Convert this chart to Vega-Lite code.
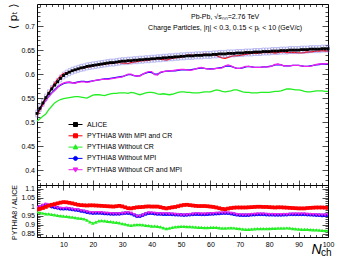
{
"$schema": "https://vega.github.io/schema/vega-lite/v6.json",
"background": "white",
"padding": {"left": 6, "top": 2, "right": 2, "bottom": 2},
"config": {
  "font": "Liberation Sans",
  "view": {"stroke": "black", "strokeWidth": 1},
  "axis": {"domain": false, "grid": false, "tickColor": "black", "tickWidth": 0.7, "labelFont": "Liberation Sans", "labelFontSize": 7, "labelColor": "black", "labelOverlap": false, "labelBound": false, "labelFlush": false, "titleFontWeight": "normal", "titleColor": "black"}
},
"datasets": {"d": [
{"n":1,"a":0.518,"r":0.514,"g":0.502,"b":0.520,"m":0.519,"rr":0.985,"rg":0.970,"rb":0.993,"rm":0.995},
{"n":2,"a":0.529,"r":0.526,"g":0.507,"b":0.527,"m":0.526,"rr":0.988,"rg":0.967,"rb":0.999,"rm":1.000},
{"n":3,"a":0.540,"r":0.538,"g":0.512,"b":0.537,"m":0.536,"rr":0.992,"rg":0.963,"rb":1.006,"rm":1.007},
{"n":4,"a":0.551,"r":0.550,"g":0.517,"b":0.546,"m":0.545,"rr":0.998,"rg":0.960,"rb":1.011,"rm":1.013},
{"n":5,"a":0.560,"r":0.561,"g":0.526,"b":0.554,"m":0.553,"rr":1.005,"rg":0.959,"rb":1.007,"rm":1.008},
{"n":6,"a":0.569,"r":0.572,"g":0.533,"b":0.561,"m":0.560,"rr":1.010,"rg":0.957,"rb":1.000,"rm":1.002},
{"n":7,"a":0.577,"r":0.581,"g":0.540,"b":0.567,"m":0.566,"rr":1.014,"rg":0.954,"rb":0.996,"rm":0.997},
{"n":8,"a":0.584,"r":0.589,"g":0.544,"b":0.573,"m":0.572,"rr":1.018,"rg":0.951,"rb":0.993,"rm":0.992},
{"n":9,"a":0.591,"r":0.596,"g":0.547,"b":0.577,"m":0.578,"rr":1.022,"rg":0.949,"rb":0.989,"rm":0.990},
{"n":10,"a":0.597,"r":0.601,"g":0.549,"b":0.580,"m":0.581,"rr":1.025,"rg":0.947,"rb":0.988,"rm":0.989},
{"n":11,"a":0.601,"r":0.603,"g":0.550,"b":0.582,"m":0.583,"rr":1.024,"rg":0.945,"rb":0.989,"rm":0.990},
{"n":12,"a":0.604,"r":0.605,"g":0.551,"b":0.583,"m":0.583,"rr":1.021,"rg":0.943,"rb":0.987,"rm":0.988},
{"n":13,"a":0.607,"r":0.607,"g":0.552,"b":0.582,"m":0.582,"rr":1.018,"rg":0.941,"rb":0.984,"rm":0.985},
{"n":14,"a":0.609,"r":0.609,"g":0.553,"b":0.582,"m":0.581,"rr":1.014,"rg":0.939,"rb":0.982,"rm":0.983},
{"n":15,"a":0.611,"r":0.610,"g":0.553,"b":0.584,"m":0.583,"rr":1.010,"rg":0.936,"rb":0.980,"rm":0.981},
{"n":16,"a":0.613,"r":0.612,"g":0.552,"b":0.585,"m":0.584,"rr":1.008,"rg":0.934,"rb":0.976,"rm":0.977},
{"n":17,"a":0.614,"r":0.613,"g":0.551,"b":0.585,"m":0.584,"rr":1.007,"rg":0.932,"rb":0.973,"rm":0.974},
{"n":18,"a":0.616,"r":0.615,"g":0.550,"b":0.584,"m":0.583,"rr":1.006,"rg":0.925,"rb":0.969,"rm":0.970},
{"n":19,"a":0.617,"r":0.615,"g":0.553,"b":0.585,"m":0.584,"rr":1.007,"rg":0.915,"rb":0.966,"rm":0.967},
{"n":20,"a":0.618,"r":0.617,"g":0.556,"b":0.586,"m":0.586,"rr":1.007,"rg":0.908,"rb":0.964,"rm":0.965},
{"n":21,"a":0.619,"r":0.618,"g":0.557,"b":0.587,"m":0.587,"rr":1.006,"rg":0.914,"rb":0.965,"rm":0.966},
{"n":22,"a":0.620,"r":0.619,"g":0.557,"b":0.588,"m":0.588,"rr":1.005,"rg":0.920,"rb":0.965,"rm":0.966},
{"n":23,"a":0.621,"r":0.620,"g":0.556,"b":0.589,"m":0.589,"rr":1.004,"rg":0.922,"rb":0.964,"rm":0.965},
{"n":24,"a":0.622,"r":0.621,"g":0.555,"b":0.590,"m":0.589,"rr":1.003,"rg":0.920,"rb":0.962,"rm":0.963},
{"n":25,"a":0.623,"r":0.622,"g":0.557,"b":0.590,"m":0.589,"rr":1.002,"rg":0.918,"rb":0.961,"rm":0.962},
{"n":26,"a":0.624,"r":0.622,"g":0.559,"b":0.591,"m":0.590,"rr":1.001,"rg":0.916,"rb":0.960,"rm":0.961},
{"n":27,"a":0.624,"r":0.623,"g":0.560,"b":0.592,"m":0.591,"rr":1.000,"rg":0.914,"rb":0.959,"rm":0.960},
{"n":28,"a":0.625,"r":0.624,"g":0.560,"b":0.593,"m":0.592,"rr":1.002,"rg":0.912,"rb":0.960,"rm":0.960},
{"n":29,"a":0.626,"r":0.624,"g":0.561,"b":0.594,"m":0.593,"rr":1.004,"rg":0.909,"rb":0.960,"rm":0.959},
{"n":30,"a":0.627,"r":0.623,"g":0.561,"b":0.595,"m":0.594,"rr":1.001,"rg":0.906,"rb":0.962,"rm":0.961},
{"n":31,"a":0.627,"r":0.623,"g":0.561,"b":0.597,"m":0.597,"rr":0.996,"rg":0.902,"rb":0.964,"rm":0.964},
{"n":32,"a":0.628,"r":0.622,"g":0.560,"b":0.599,"m":0.600,"rr":0.991,"rg":0.898,"rb":0.964,"rm":0.965},
{"n":33,"a":0.628,"r":0.624,"g":0.562,"b":0.599,"m":0.600,"rr":0.990,"rg":0.896,"rb":0.961,"rm":0.963},
{"n":34,"a":0.629,"r":0.625,"g":0.561,"b":0.597,"m":0.597,"rr":0.993,"rg":0.898,"rb":0.954,"rm":0.955},
{"n":35,"a":0.629,"r":0.626,"g":0.559,"b":0.596,"m":0.596,"rr":0.996,"rg":0.900,"rb":0.947,"rm":0.946},
{"n":36,"a":0.630,"r":0.627,"g":0.557,"b":0.597,"m":0.596,"rr":0.997,"rg":0.900,"rb":0.947,"rm":0.945},
{"n":37,"a":0.630,"r":0.628,"g":0.559,"b":0.600,"m":0.600,"rr":0.998,"rg":0.898,"rb":0.953,"rm":0.952},
{"n":38,"a":0.631,"r":0.628,"g":0.561,"b":0.602,"m":0.603,"rr":1.000,"rg":0.896,"rb":0.959,"rm":0.960},
{"n":39,"a":0.631,"r":0.629,"g":0.562,"b":0.604,"m":0.605,"rr":1.001,"rg":0.894,"rb":0.963,"rm":0.965},
{"n":40,"a":0.632,"r":0.630,"g":0.562,"b":0.603,"m":0.605,"rr":1.000,"rg":0.892,"rb":0.963,"rm":0.964},
{"n":41,"a":0.632,"r":0.631,"g":0.561,"b":0.600,"m":0.599,"rr":1.000,"rg":0.891,"rb":0.961,"rm":0.962},
{"n":42,"a":0.633,"r":0.632,"g":0.559,"b":0.600,"m":0.598,"rr":1.000,"rg":0.890,"rb":0.959,"rm":0.960},
{"n":43,"a":0.633,"r":0.631,"g":0.558,"b":0.603,"m":0.604,"rr":0.997,"rg":0.887,"rb":0.959,"rm":0.959},
{"n":44,"a":0.634,"r":0.630,"g":0.559,"b":0.605,"m":0.605,"rr":0.993,"rg":0.882,"rb":0.958,"rm":0.959},
{"n":45,"a":0.634,"r":0.629,"g":0.558,"b":0.606,"m":0.606,"rr":0.990,"rg":0.878,"rb":0.958,"rm":0.959},
{"n":46,"a":0.635,"r":0.631,"g":0.557,"b":0.606,"m":0.607,"rr":0.993,"rg":0.880,"rb":0.958,"rm":0.958},
{"n":47,"a":0.635,"r":0.633,"g":0.558,"b":0.607,"m":0.607,"rr":0.996,"rg":0.884,"rb":0.957,"rm":0.958},
{"n":48,"a":0.636,"r":0.634,"g":0.560,"b":0.607,"m":0.608,"rr":0.998,"rg":0.887,"rb":0.956,"rm":0.957},
{"n":49,"a":0.636,"r":0.635,"g":0.562,"b":0.608,"m":0.609,"rr":1.002,"rg":0.889,"rb":0.955,"rm":0.955},
{"n":50,"a":0.637,"r":0.635,"g":0.563,"b":0.609,"m":0.610,"rr":1.006,"rg":0.890,"rb":0.954,"rm":0.953},
{"n":51,"a":0.637,"r":0.637,"g":0.563,"b":0.609,"m":0.610,"rr":1.009,"rg":0.890,"rb":0.953,"rm":0.952},
{"n":52,"a":0.638,"r":0.639,"g":0.562,"b":0.609,"m":0.609,"rr":1.010,"rg":0.889,"rb":0.954,"rm":0.954},
{"n":53,"a":0.638,"r":0.640,"g":0.562,"b":0.609,"m":0.608,"rr":1.008,"rg":0.888,"rb":0.956,"rm":0.956},
{"n":54,"a":0.638,"r":0.639,"g":0.561,"b":0.610,"m":0.609,"rr":1.006,"rg":0.887,"rb":0.957,"rm":0.958},
{"n":55,"a":0.639,"r":0.639,"g":0.561,"b":0.611,"m":0.611,"rr":1.004,"rg":0.886,"rb":0.958,"rm":0.959},
{"n":56,"a":0.639,"r":0.640,"g":0.561,"b":0.612,"m":0.613,"rr":1.003,"rg":0.885,"rb":0.958,"rm":0.959},
{"n":57,"a":0.639,"r":0.641,"g":0.562,"b":0.613,"m":0.614,"rr":1.003,"rg":0.884,"rb":0.957,"rm":0.958},
{"n":58,"a":0.640,"r":0.641,"g":0.563,"b":0.612,"m":0.612,"rr":1.003,"rg":0.883,"rb":0.957,"rm":0.958},
{"n":59,"a":0.640,"r":0.641,"g":0.563,"b":0.611,"m":0.611,"rr":1.002,"rg":0.883,"rb":0.958,"rm":0.959},
{"n":60,"a":0.640,"r":0.640,"g":0.563,"b":0.611,"m":0.610,"rr":1.000,"rg":0.884,"rb":0.959,"rm":0.960},
{"n":61,"a":0.641,"r":0.640,"g":0.565,"b":0.611,"m":0.611,"rr":0.998,"rg":0.885,"rb":0.960,"rm":0.961},
{"n":62,"a":0.641,"r":0.639,"g":0.567,"b":0.612,"m":0.612,"rr":0.995,"rg":0.884,"rb":0.961,"rm":0.962},
{"n":63,"a":0.642,"r":0.636,"g":0.566,"b":0.613,"m":0.612,"rr":0.991,"rg":0.882,"rb":0.962,"rm":0.963},
{"n":64,"a":0.642,"r":0.634,"g":0.564,"b":0.614,"m":0.613,"rr":0.987,"rg":0.880,"rb":0.963,"rm":0.964},
{"n":65,"a":0.642,"r":0.633,"g":0.563,"b":0.616,"m":0.617,"rr":0.986,"rg":0.880,"rb":0.964,"rm":0.965},
{"n":66,"a":0.643,"r":0.635,"g":0.564,"b":0.617,"m":0.619,"rr":0.989,"rg":0.881,"rb":0.963,"rm":0.964},
{"n":67,"a":0.643,"r":0.637,"g":0.565,"b":0.616,"m":0.617,"rr":0.992,"rg":0.882,"rb":0.961,"rm":0.962},
{"n":68,"a":0.643,"r":0.638,"g":0.567,"b":0.614,"m":0.614,"rr":0.994,"rg":0.881,"rb":0.958,"rm":0.959},
{"n":69,"a":0.644,"r":0.638,"g":0.567,"b":0.612,"m":0.612,"rr":0.995,"rg":0.879,"rb":0.955,"rm":0.956},
{"n":70,"a":0.644,"r":0.639,"g":0.565,"b":0.612,"m":0.612,"rr":0.995,"rg":0.877,"rb":0.953,"rm":0.954},
{"n":71,"a":0.644,"r":0.640,"g":0.563,"b":0.613,"m":0.614,"rr":0.995,"rg":0.875,"rb":0.952,"rm":0.952},
{"n":72,"a":0.645,"r":0.641,"g":0.562,"b":0.615,"m":0.616,"rr":0.995,"rg":0.874,"rb":0.952,"rm":0.952},
{"n":73,"a":0.645,"r":0.642,"g":0.562,"b":0.616,"m":0.616,"rr":0.996,"rg":0.874,"rb":0.953,"rm":0.954},
{"n":74,"a":0.645,"r":0.643,"g":0.561,"b":0.615,"m":0.615,"rr":0.997,"rg":0.875,"rb":0.955,"rm":0.956},
{"n":75,"a":0.646,"r":0.643,"g":0.561,"b":0.614,"m":0.614,"rr":0.998,"rg":0.876,"rb":0.956,"rm":0.957},
{"n":76,"a":0.646,"r":0.643,"g":0.561,"b":0.614,"m":0.614,"rr":0.999,"rg":0.877,"rb":0.957,"rm":0.958},
{"n":77,"a":0.646,"r":0.644,"g":0.562,"b":0.614,"m":0.614,"rr":0.999,"rg":0.877,"rb":0.957,"rm":0.958},
{"n":78,"a":0.647,"r":0.645,"g":0.562,"b":0.615,"m":0.615,"rr":0.998,"rg":0.877,"rb":0.957,"rm":0.958},
{"n":79,"a":0.647,"r":0.645,"g":0.562,"b":0.615,"m":0.615,"rr":0.998,"rg":0.877,"rb":0.956,"rm":0.957},
{"n":80,"a":0.647,"r":0.645,"g":0.562,"b":0.616,"m":0.615,"rr":0.997,"rg":0.878,"rb":0.955,"rm":0.956},
{"n":81,"a":0.648,"r":0.645,"g":0.563,"b":0.617,"m":0.617,"rr":0.996,"rg":0.879,"rb":0.955,"rm":0.956},
{"n":82,"a":0.648,"r":0.644,"g":0.564,"b":0.619,"m":0.620,"rr":0.995,"rg":0.879,"rb":0.954,"rm":0.955},
{"n":83,"a":0.648,"r":0.645,"g":0.564,"b":0.620,"m":0.621,"rr":0.996,"rg":0.880,"rb":0.954,"rm":0.955},
{"n":84,"a":0.649,"r":0.646,"g":0.565,"b":0.619,"m":0.619,"rr":0.996,"rg":0.880,"rb":0.954,"rm":0.955},
{"n":85,"a":0.649,"r":0.646,"g":0.567,"b":0.617,"m":0.617,"rr":0.995,"rg":0.880,"rb":0.955,"rm":0.955},
{"n":86,"a":0.649,"r":0.645,"g":0.569,"b":0.617,"m":0.617,"rr":0.994,"rg":0.881,"rb":0.956,"rm":0.956},
{"n":87,"a":0.650,"r":0.645,"g":0.569,"b":0.617,"m":0.617,"rr":0.993,"rg":0.880,"rb":0.957,"rm":0.957},
{"n":88,"a":0.650,"r":0.645,"g":0.568,"b":0.618,"m":0.618,"rr":0.992,"rg":0.878,"rb":0.957,"rm":0.958},
{"n":89,"a":0.650,"r":0.645,"g":0.567,"b":0.618,"m":0.618,"rr":0.991,"rg":0.876,"rb":0.957,"rm":0.958},
{"n":90,"a":0.650,"r":0.644,"g":0.567,"b":0.618,"m":0.618,"rr":0.990,"rg":0.875,"rb":0.957,"rm":0.958},
{"n":91,"a":0.651,"r":0.644,"g":0.566,"b":0.617,"m":0.617,"rr":0.990,"rg":0.874,"rb":0.957,"rm":0.958},
{"n":92,"a":0.651,"r":0.645,"g":0.564,"b":0.616,"m":0.616,"rr":0.990,"rg":0.874,"rb":0.957,"rm":0.958},
{"n":93,"a":0.651,"r":0.646,"g":0.563,"b":0.616,"m":0.616,"rr":0.992,"rg":0.873,"rb":0.956,"rm":0.957},
{"n":94,"a":0.652,"r":0.646,"g":0.563,"b":0.617,"m":0.616,"rr":0.993,"rg":0.872,"rb":0.955,"rm":0.956},
{"n":95,"a":0.652,"r":0.647,"g":0.564,"b":0.618,"m":0.618,"rr":0.994,"rg":0.871,"rb":0.954,"rm":0.955},
{"n":96,"a":0.652,"r":0.648,"g":0.565,"b":0.619,"m":0.620,"rr":0.995,"rg":0.870,"rb":0.953,"rm":0.954},
{"n":97,"a":0.652,"r":0.648,"g":0.565,"b":0.620,"m":0.621,"rr":0.995,"rg":0.869,"rb":0.952,"rm":0.953},
{"n":98,"a":0.653,"r":0.649,"g":0.565,"b":0.621,"m":0.621,"rr":0.995,"rg":0.868,"rb":0.951,"rm":0.952},
{"n":99,"a":0.653,"r":0.648,"g":0.564,"b":0.621,"m":0.622,"rr":0.994,"rg":0.867,"rb":0.952,"rm":0.953},
{"n":100,"a":0.653,"r":0.648,"g":0.564,"b":0.622,"m":0.622,"rr":0.993,"rg":0.867,"rb":0.953,"rm":0.954}
]},
"spacing": 0,
"bounds": "flush",
"resolve": {"scale": {"x": "independent", "y": "independent", "color": "independent", "shape": "independent", "strokeWidth": "independent"}, "legend": {"color": "independent", "shape": "independent", "strokeWidth": "independent"}},
"vconcat": [
{
  "width": 291, "height": 181,
  "data": {"name": "d"},
  "resolve": {"axis": {"x": "independent", "y": "independent"}},
  "layer": [
    {
      "transform": [{"fold": ["b", "m", "g", "r"], "as": ["k", "v"]}],
      "mark": {"type": "line", "clip": true},
      "encoding": {
        "x": {"field": "n", "type": "quantitative", "scale": {"domain": [1, 100], "nice": false},
              "axis": {"orient": "bottom", "values": [2,4,6,8,10,12,14,16,18,20,22,24,26,28,30,32,34,36,38,40,42,44,46,48,50,52,54,56,58,60,62,64,66,68,70,72,74,76,78,80,82,84,86,88,90,92,94,96,98,100], "labels": false, "title": null,
                       "tickSize": {"condition": {"test": "datum.value % 10 === 0", "value": -5}, "value": -2.5}}},
        "y": {"field": "v", "type": "quantitative", "scale": {"domain": [0.369, 0.746], "nice": false, "zero": false},
              "axis": {"orient": "left", "values": [0.37,0.38,0.39,0.4,0.41,0.42,0.43,0.44,0.45,0.46,0.47,0.48,0.49,0.5,0.51,0.52,0.53,0.54,0.55,0.56,0.57,0.58,0.59,0.6,0.61,0.62,0.63,0.64,0.65,0.66,0.67,0.68,0.69,0.7,0.71,0.72,0.73,0.74],
                       "labelExpr": "round(datum.value*100) % 5 === 0 ? format(datum.value, '~g') : ''",
                       "tickSize": {"condition": {"test": "round(datum.value*100) % 5 === 0", "value": -6}, "value": -3},
                       "labelPadding": 8.5,
                       "title": "⟨ pₜ ⟩", "titleFont": "DejaVu Sans", "titleFontSize": 11, "titleAngle": -90, "titleAlign": "right", "titleBaseline": "middle", "titleX": -24, "titleY": -1}},
        "color": {"field": "k", "type": "nominal",
                  "scale": {"domain": ["a", "r", "g", "b", "m"], "range": ["#000000", "#ff0000", "#22ee22", "#0000ff", "#ee22ee"]},
                  "legend": {"orient": "none", "legendX": 35, "legendY": 117, "title": null, "padding": 0, "offset": 0,
                             "labelFontSize": 7, "labelFont": "Liberation Sans", "labelColor": "black", "labelOffset": 8,
                             "symbolSize": 16, "rowPadding": 2.3, "symbolStrokeWidth": 1,
                             "labelExpr": "datum.label == 'a' ? 'ALICE' : datum.label == 'r' ? 'PYTHIA8 With MPI and CR' : datum.label == 'g' ? 'PYTHIA8 Without CR' : datum.label == 'b' ? 'PYTHIA8 Without MPI' : 'PYTHIA8 Without CR and MPI'",
                             "encode": {"symbols": {"update": {
                               "shape": {"signal": "datum.value == 'a' ? 'M-3.5,0H3.5M-1,-1H1V1H-1Z' : datum.value == 'r' ? 'M-3.5,0H3.5M-1,-1H1V1H-1Z' : datum.value == 'g' ? 'M-3.5,0H3.5M0,-1.2L1.1,0.9H-1.1Z' : datum.value == 'b' ? 'M-3.5,0H3.5M1,0A1,1 0 1,1 -1,0A1,1 0 1,1 1,0Z' : 'M-3.5,0H3.5M0,1.2L1.1,-0.9H-1.1Z'"},
                               "fill": {"signal": "datum.value == 'a' ? '#000000' : datum.value == 'r' ? '#ff0000' : datum.value == 'g' ? '#22ee22' : datum.value == 'b' ? '#0000ff' : '#ee22ee'"},
                               "stroke": {"signal": "datum.value == 'a' ? '#000000' : datum.value == 'r' ? '#ff0000' : datum.value == 'g' ? '#22ee22' : datum.value == 'b' ? '#0000ff' : '#ee22ee'"},
                               "opacity": {"value": 1}
                             }}}}},
        "strokeWidth": {"field": "k", "type": "nominal", "scale": {"domain": ["r", "g", "b", "m"], "range": [1.3, 1.3, 1.3, 2]}, "legend": null}
      }
    },
    {
      "mark": {"type": "point", "shape": "M-0.35,-1H0.35V1H-0.35Z", "size": 49, "filled": false, "stroke": "#7b7be8", "strokeWidth": 0.6, "opacity": 0.8},
      "encoding": {
        "x": {"field": "n", "type": "quantitative", "scale": {"domain": [1, 100], "nice": false}, "axis": null},
        "y": {"field": "a", "type": "quantitative", "scale": {"domain": [0.369, 0.746], "nice": false, "zero": false}, "axis": null}
      }
    },
    {
      "mark": {"type": "line", "color": "black", "strokeWidth": 1.2},
      "encoding": {
        "x": {"field": "n", "type": "quantitative", "scale": {"domain": [1, 100], "nice": false},
              "axis": {"orient": "top", "values": [2,4,6,8,10,12,14,16,18,20,22,24,26,28,30,32,34,36,38,40,42,44,46,48,50,52,54,56,58,60,62,64,66,68,70,72,74,76,78,80,82,84,86,88,90,92,94,96,98,100], "labels": false, "title": null,
                       "tickSize": {"condition": {"test": "datum.value % 10 === 0", "value": -5}, "value": -2.5}}},
        "y": {"field": "a", "type": "quantitative", "scale": {"domain": [0.369, 0.746], "nice": false, "zero": false},
              "axis": {"orient": "right", "values": [0.37,0.38,0.39,0.4,0.41,0.42,0.43,0.44,0.45,0.46,0.47,0.48,0.49,0.5,0.51,0.52,0.53,0.54,0.55,0.56,0.57,0.58,0.59,0.6,0.61,0.62,0.63,0.64,0.65,0.66,0.67,0.68,0.69,0.7,0.71,0.72,0.73,0.74], "labels": false, "title": null,
                       "tickSize": {"condition": {"test": "round(datum.value*100) % 5 === 0", "value": -6}, "value": -3}}}
      }
    },
    {
      "mark": {"type": "point", "shape": "square", "size": 8, "filled": true, "color": "black", "opacity": 1},
      "encoding": {
        "x": {"field": "n", "type": "quantitative", "scale": {"domain": [1, 100], "nice": false}, "axis": null},
        "y": {"field": "a", "type": "quantitative", "scale": {"domain": [0.369, 0.746], "nice": false, "zero": false}, "axis": null}
      }
    },
    {
      "data": {"values": [{"t": "Pb-Pb, √sₙₙ=2.76 TeV", "x": 65, "y": 0.719}, {"t": "Charge Particles, |η| < 0.3, 0.15 < pₜ < 10 (GeV/c)", "x": 65, "y": 0.696}]},
      "mark": {"type": "text", "fontSize": 7, "font": "Liberation Sans", "color": "black", "align": "center", "baseline": "middle"},
      "encoding": {
        "x": {"field": "x", "type": "quantitative", "scale": {"domain": [1, 100], "nice": false}, "axis": null},
        "y": {"field": "y", "type": "quantitative", "scale": {"domain": [0.369, 0.746], "nice": false, "zero": false}, "axis": null},
        "text": {"field": "t"}
      }
    }
  ]
},
{
  "width": 291, "height": 52,
  "data": {"name": "d"},
  "resolve": {"axis": {"x": "independent", "y": "independent"}},
  "layer": [
    {
      "transform": [{"fold": ["rg", "rr", "rb", "rm"], "as": ["k", "v"]}],
      "mark": {"type": "line", "strokeWidth": 1, "clip": true},
      "encoding": {
        "x": {"field": "n", "type": "quantitative", "scale": {"domain": [1, 100], "nice": false},
              "axis": {"orient": "bottom", "values": [2,4,6,8,10,12,14,16,18,20,22,24,26,28,30,32,34,36,38,40,42,44,46,48,50,52,54,56,58,60,62,64,66,68,70,72,74,76,78,80,82,84,86,88,90,92,94,96,98,100],
                       "labelExpr": "datum.value % 10 === 0 ? datum.label : ''", "labelPadding": 8,
                       "tickSize": {"condition": {"test": "datum.value % 10 === 0", "value": -5}, "value": -2.5},
                       "title": "N", "titleFont": "Liberation Sans", "titleFontSize": 14, "titleFontStyle": "italic", "titleAnchor": "end", "titleAlign": "right", "titleBaseline": "alphabetic", "titleX": 284, "titleY": 16}},
        "y": {"field": "v", "type": "quantitative", "scale": {"domain": [0.831, 1.12], "nice": false, "zero": false},
              "axis": {"orient": "left", "values": [0.84,0.85,0.86,0.87,0.88,0.89,0.9,0.91,0.92,0.93,0.94,0.95,0.96,0.97,0.98,0.99,1,1.01,1.02,1.03,1.04,1.05,1.06,1.07,1.08,1.09,1.1,1.11,1.12],
                       "labelExpr": "round(datum.value*100) % 5 === 0 ? format(datum.value, '~g') : ''",
                       "tickSize": {"condition": {"test": "round(datum.value*100) % 5 === 0", "value": -6}, "value": -3},
                       "labelPadding": 8.5,
                       "title": "PYTHIA8 / ALICE", "titleFont": "Liberation Sans", "titleFontSize": 7, "titleAngle": -90, "titleAlign": "center", "titleBaseline": "middle", "titleX": -23, "titleY": 27}},
        "color": {"field": "k", "type": "nominal", "scale": {"domain": ["rr", "rg", "rb", "rm"], "range": ["#ff0000", "#22ee22", "#0000ff", "#ee22ee"]}, "legend": null}
      }
    },
    {
      "transform": [{"fold": ["rg", "rr", "rb", "rm"], "as": ["k", "v"]}],
      "mark": {"type": "point", "filled": true, "size": 14, "opacity": 1, "clip": true},
      "encoding": {
        "x": {"field": "n", "type": "quantitative", "scale": {"domain": [1, 100], "nice": false},
              "axis": {"orient": "top", "values": [2,4,6,8,10,12,14,16,18,20,22,24,26,28,30,32,34,36,38,40,42,44,46,48,50,52,54,56,58,60,62,64,66,68,70,72,74,76,78,80,82,84,86,88,90,92,94,96,98,100], "labels": false, "title": null,
                       "tickSize": {"condition": {"test": "datum.value % 10 === 0", "value": -5}, "value": -2.5}}},
        "y": {"field": "v", "type": "quantitative", "scale": {"domain": [0.831, 1.12], "nice": false, "zero": false},
              "axis": {"orient": "right", "values": [0.84,0.85,0.86,0.87,0.88,0.89,0.9,0.91,0.92,0.93,0.94,0.95,0.96,0.97,0.98,0.99,1,1.01,1.02,1.03,1.04,1.05,1.06,1.07,1.08,1.09,1.1,1.11,1.12], "labels": false, "title": null,
                       "tickSize": {"condition": {"test": "round(datum.value*100) % 5 === 0", "value": -6}, "value": -3}}},
        "color": {"field": "k", "type": "nominal", "scale": {"domain": ["rr", "rg", "rb", "rm"], "range": ["#ff0000", "#22ee22", "#0000ff", "#ee22ee"]}, "legend": null},
        "shape": {"field": "k", "type": "nominal", "scale": {"domain": ["rr", "rg", "rb", "rm"], "range": ["square", "triangle-up", "circle", "triangle-down"]}, "legend": null},
        "order": {"field": "k"}
      }
    },
    {
      "data": {"values": [{"t": "ch", "x": 100, "y": 0.831}]},
      "mark": {"type": "text", "fontSize": 10, "font": "Liberation Sans", "color": "black", "align": "left", "baseline": "alphabetic", "dx": -7, "dy": 19},
      "encoding": {
        "x": {"field": "x", "type": "quantitative", "scale": {"domain": [1, 100], "nice": false}, "axis": null},
        "y": {"field": "y", "type": "quantitative", "scale": {"domain": [0.831, 1.12], "nice": false, "zero": false}, "axis": null},
        "text": {"field": "t"}
      }
    }
  ]
}
]
}
